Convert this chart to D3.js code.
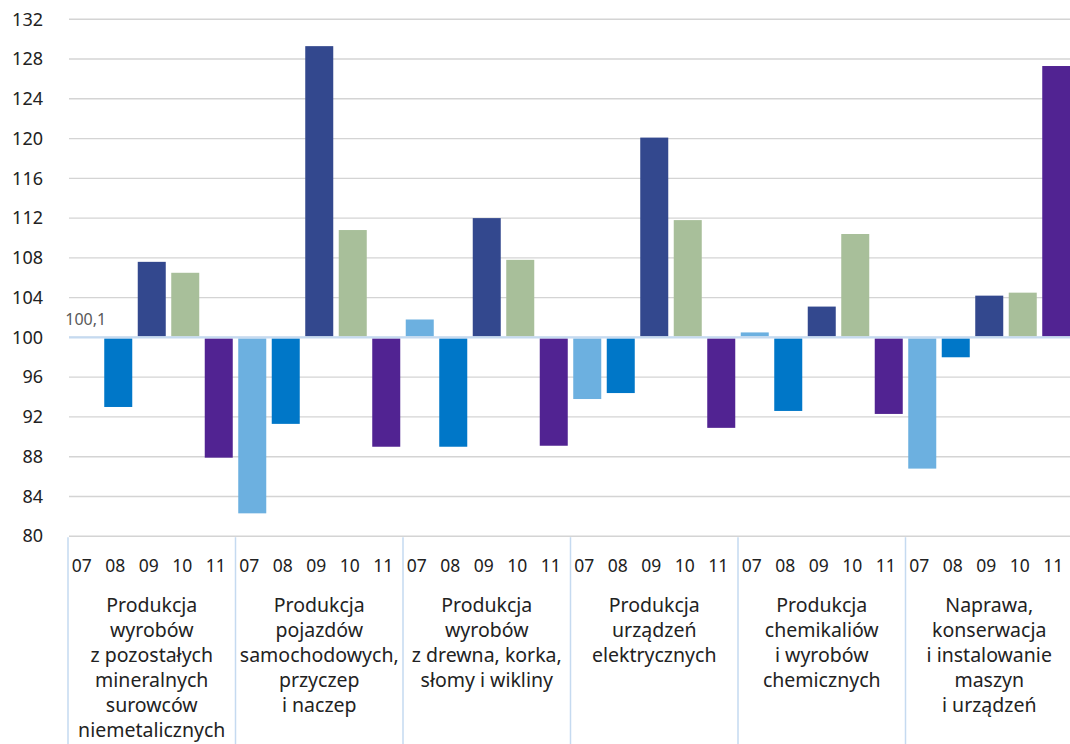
<!DOCTYPE html>
<html>
<head>
<meta charset="utf-8">
<script src="https://cdn.jsdelivr.net/npm/d3@7"></script>
<style>
  body { margin: 0; background: #fff; }
  svg { display: block; font-family: "Noto Sans", sans-serif; }
</style>
</head>
<body>
<script>
// data
var groups = ["g1", "g2", "g3", "g4", "g5", "g6"];
var groupLabels = [
  ["Produkcja", "wyrobów", "z pozostałych", "mineralnych", "surowców", "niemetalicznych"],
  ["Produkcja", "pojazdów", "samochodowych,", "przyczep", "i naczep"],
  ["Produkcja", "wyrobów", "z drewna, korka,", "słomy i wikliny"],
  ["Produkcja", "urządzeń", "elektrycznych"],
  ["Produkcja", "chemikaliów", "i wyrobów", "chemicznych"],
  ["Naprawa,", "konserwacja", "i instalowanie", "maszyn", "i urządzeń"]
];
var months = ["07", "08", "09", "10", "11"];
var m07 = [100.1, 82.3, 101.8, 93.8, 100.5, 86.8];
var m08 = [93.0, 91.3, 89.0, 94.4, 92.6, 98.0];
var m09 = [107.6, 129.3, 112.0, 120.1, 103.1, 104.2];
var m10 = [106.5, 110.8, 107.8, 111.8, 110.4, 104.5];
var m11 = [87.9, 89.0, 89.1, 90.9, 92.3, 127.3];
var yTicks = [80, 84, 88, 92, 96, 100, 104, 108, 112, 116, 120, 124, 128, 132];
var baseValue = 100;

var colors = ["#6cb0e0", "#0077c8", "#33488e", "#a8bf9a", "#512392"];

var w = 1070;
var h = 744;
var series = [m07, m08, m09, m10, m11];

var svg = d3.select("body")
  .append("svg")
  .attr("width", w)
  .attr("height", h);

var x0 = d3.scaleBand()
  .domain(groups)
  .range([68, 1073]);

var x1 = d3.scaleBand()
  .domain(months)
  .range([0, x0.bandwidth()]);

var barW = x1.bandwidth() * 0.836;

var y = d3.scaleLinear()
  .domain([80, 132])
  .range([536.2, 19.3]);

// gridlines
svg.append("g")
  .selectAll("line")
  .data(yTicks)
  .enter()
  .append("line")
  .attr("x1", 69)
  .attr("x2", w)
  .attr("y1", function(d) { return y(d); })
  .attr("y2", function(d) { return y(d); })
  .attr("stroke", "#d4d4d4")
  .attr("stroke-width", 1.4);

// y axis labels
var yAxis = d3.axisLeft(y).tickValues(yTicks).tickSize(0).tickPadding(0);
var yg = svg.append("g")
  .attr("transform", "translate(43,0)")
  .call(yAxis);
yg.select(".domain").remove();
yg.selectAll("text")
  .attr("font-family", "Noto Sans, sans-serif")
  .attr("font-size", "18px")
  .attr("fill", "#222");

// bars
var rows = [];
groups.forEach(function(g, gi) {
  months.forEach(function(m, mi) {
    rows.push({ g: g, gi: gi, m: m, mi: mi, v: series[mi][gi] });
  });
});

svg.append("g")
  .selectAll("rect")
  .data(rows)
  .enter()
  .append("rect")
  .attr("x", function(d) {
    return x0(d.g) + x1(d.m) + (x1.bandwidth() - barW) / 2;
  })
  .attr("y", function(d) {
    return d.v >= baseValue ? y(d.v) : y(baseValue) + 1;
  })
  .attr("width", barW)
  .attr("height", function(d) {
    return Math.max(0, Math.abs(y(d.v) - y(baseValue)) - 1);
  })
  .attr("fill", function(d) { return colors[d.mi]; });

// baseline at 100
svg.append("line")
  .attr("x1", 69)
  .attr("x2", w)
  .attr("y1", y(baseValue))
  .attr("y2", y(baseValue))
  .attr("stroke", "#c5daf0")
  .attr("stroke-width", 2.2);

// label for small bar
svg.append("text")
  .text(d3.format(".1f")(m07[0]).replace(".", ","))
  .attr("x", x0(groups[0]) + x1(months[0]) + x1.bandwidth() / 2 + 1)
  .attr("y", y(m07[0]) - 11)
  .attr("text-anchor", "middle")
  .attr("font-size", "16px")
  .attr("fill", "#595959");

// category separators
var seps = groups.map(function(g) { return x0(g); }).concat([x0.range()[1]]);
svg.append("g")
  .selectAll("line")
  .data(seps)
  .enter()
  .append("line")
  .attr("x1", function(d) { return d; })
  .attr("x2", function(d) { return d; })
  .attr("y1", y(80) + 1)
  .attr("y2", h)
  .attr("stroke", "#c5daf0")
  .attr("stroke-width", 1.5);

// month tick labels
svg.append("g")
  .selectAll("text")
  .data(rows)
  .enter()
  .append("text")
  .text(function(d) { return d.m; })
  .attr("x", function(d) {
    return x0(d.g) + x1(d.m) + x1.bandwidth() / 2 - 3;
  })
  .attr("y", 572)
  .attr("text-anchor", "middle")
  .attr("font-size", "17.5px")
  .attr("fill", "#222");

// group labels
var gl = svg.append("g")
  .selectAll("text")
  .data(groups)
  .enter()
  .append("text")
  .attr("text-anchor", "middle")
  .attr("font-size", "19.5px")
  .attr("fill", "#222");

gl.selectAll("tspan")
  .data(function(d, i) {
    return groupLabels[i].map(function(t) { return { g: d, t: t }; });
  })
  .enter()
  .append("tspan")
  .attr("x", function(d) { return x0(d.g) + x0.bandwidth() / 2; })
  .attr("y", function(d, i) { return 612 + i * 25; })
  .text(function(d) { return d.t; });
</script>
</body>
</html>
